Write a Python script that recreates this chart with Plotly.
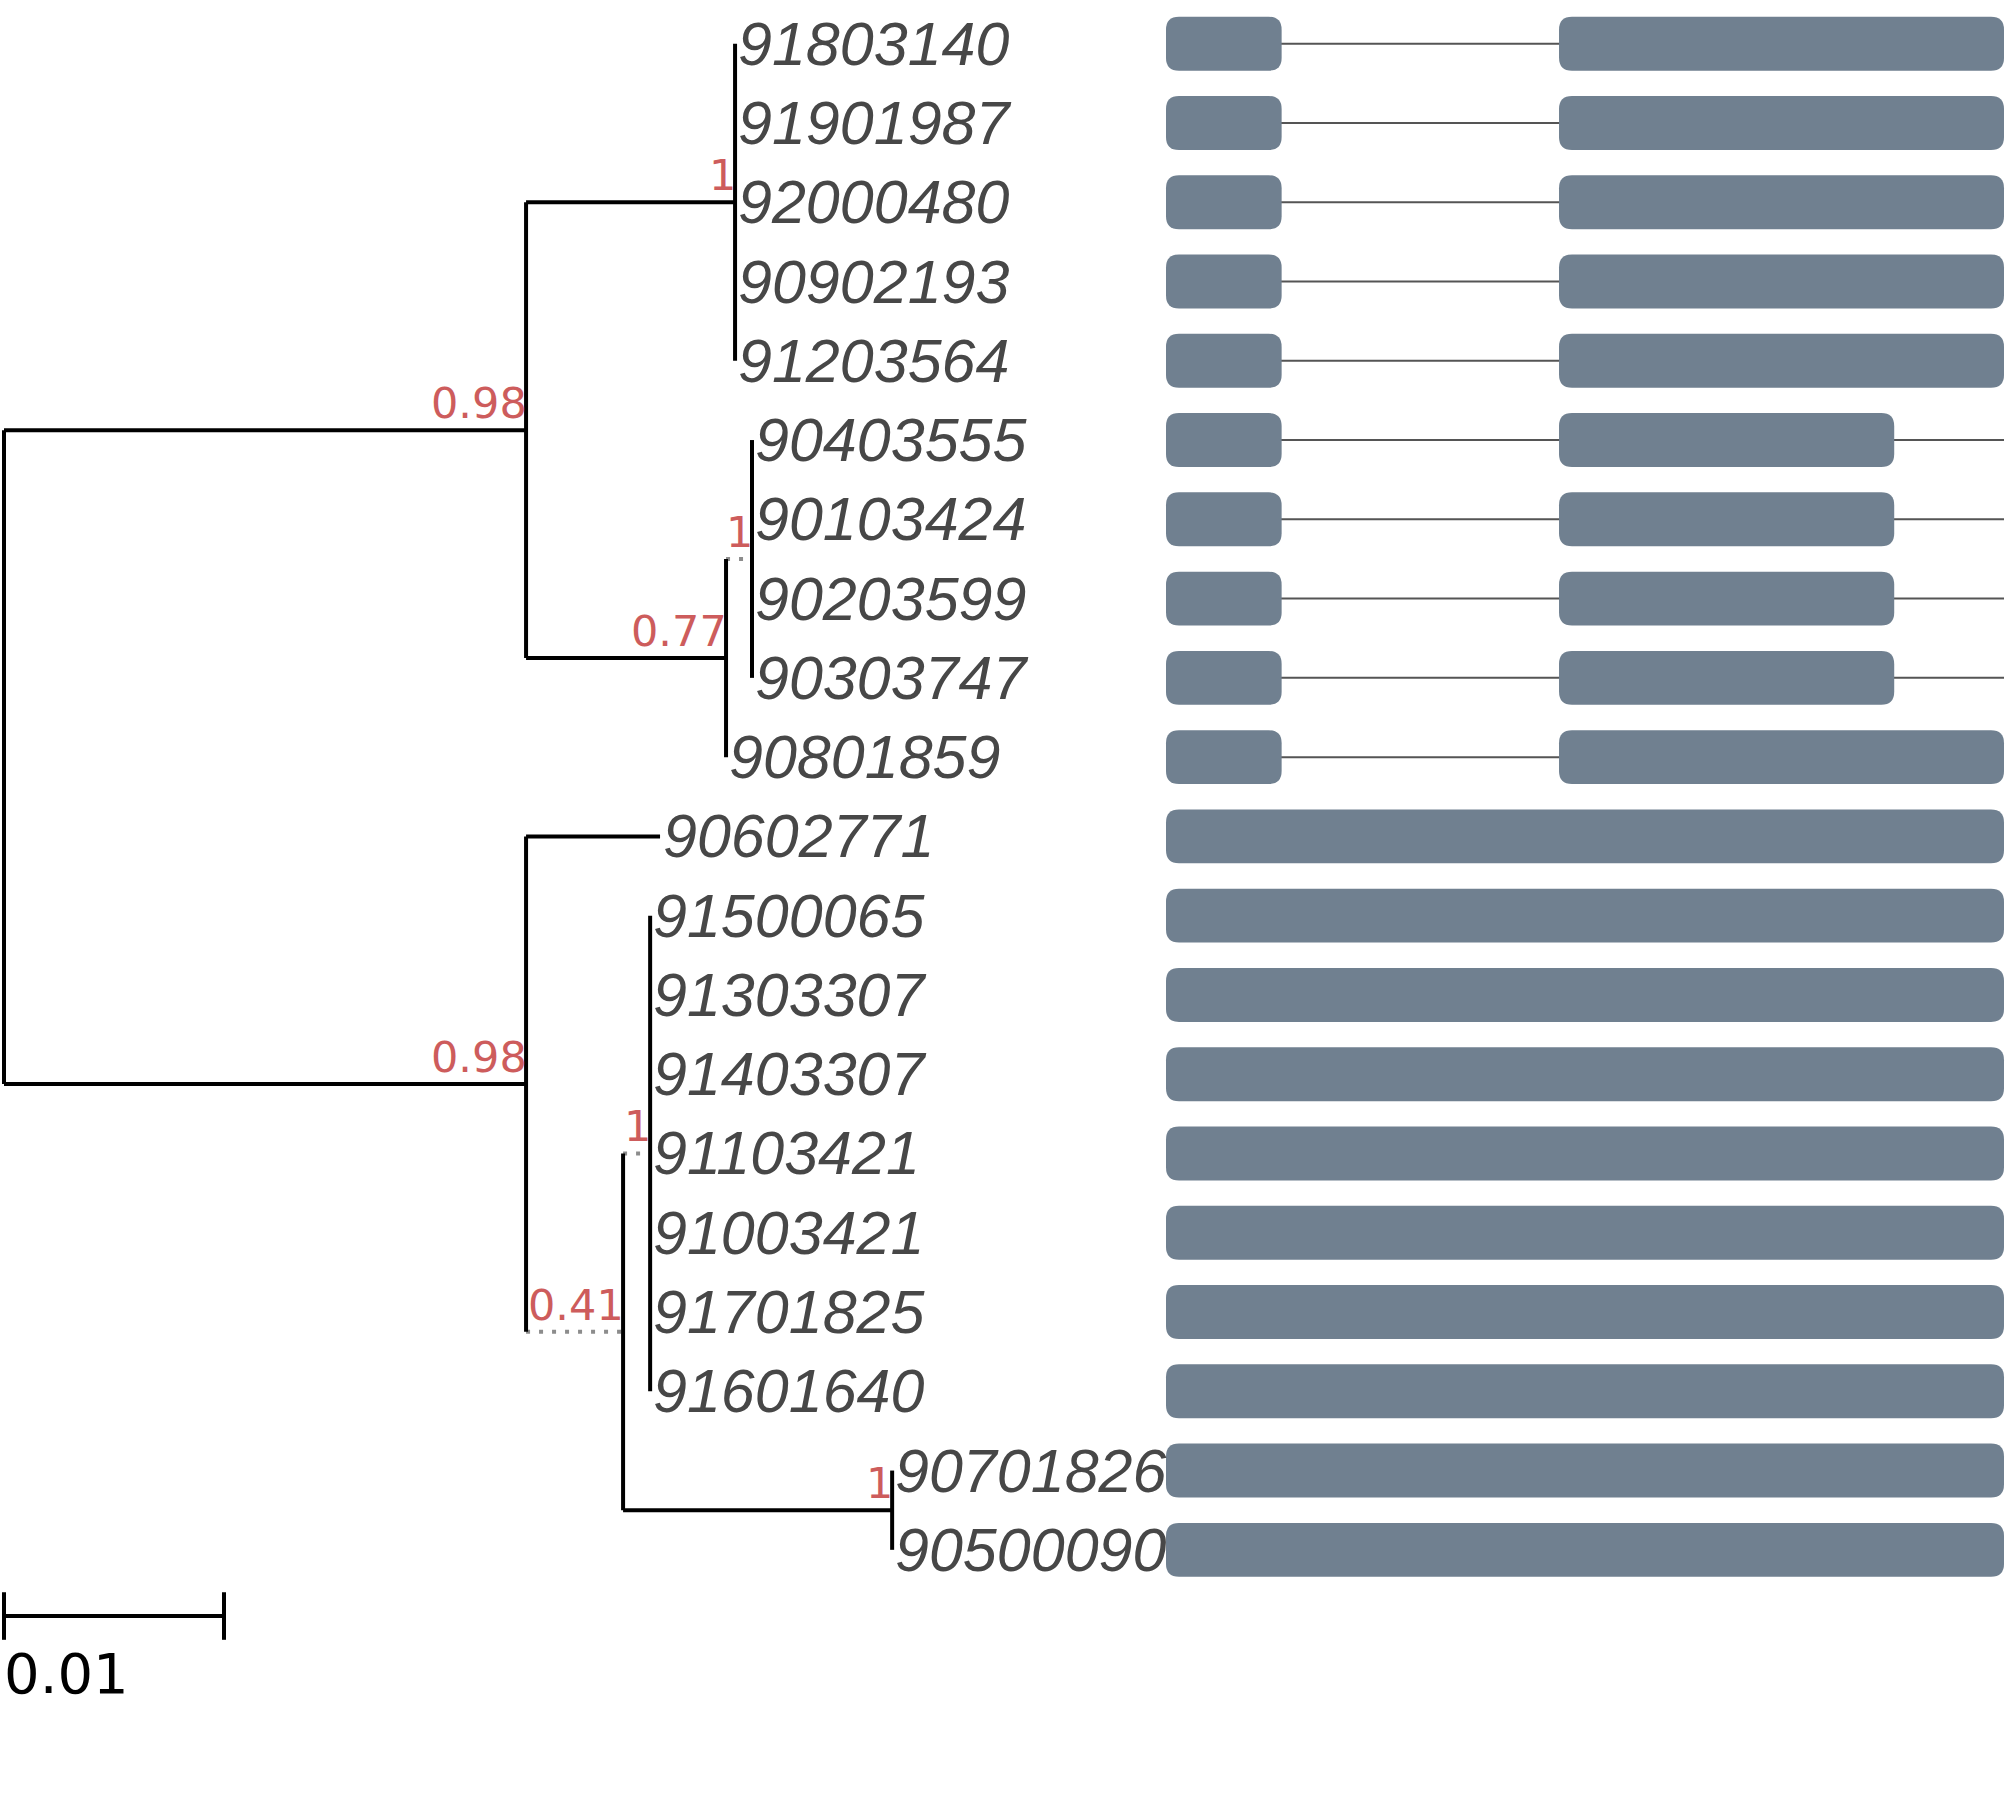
import plotly.graph_objects as go

# leaves, top to bottom
tip_names = ["91803140", "91901987", "92000480", "90902193", "91203564",
             "90403555", "90103424", "90203599", "90303747", "90801859",
             "90602771", "91500065", "91303307", "91403307", "91103421",
             "91003421", "91701825", "91601640", "90701826", "90500090"]
tip_parents = ["A1"] * 5 + ["A2i"] * 4 + ["A2", "B"] + ["Bi"] * 7 + ["Bp"] * 2
tip_lengths = [0.0] * 10 + [0.00609] + [0.0] * 9

# internal nodes
node_names = ["A", "B", "A1", "A2", "A2i", "B41", "Bi", "Bp"]
node_parents = ["root", "root", "A", "A", "A2", "B", "B41", "B41"]
node_lengths = [0.02373, 0.02373, 0.0095, 0.00909, 0.00118, 0.00441, 0.00123, 0.01223]
node_support = [0.98, 0.98, 1, 0.77, 1, 0.41, 1, 1]
dotted_nodes = ["A2i", "B41", "Bi"]

# gene models (exon start/end, transcript length)
two_exon = [(0, 138), (469, 1000)]
short_exon = [(0, 138), (469, 869)]
one_exon = [(0, 1000)]
gene_exons = [two_exon] * 5 + [short_exon] * 4 + [two_exon] + [one_exon] * 10
gene_length = [1000] * 20

scale_len = 0.01

W, H = 2007, 1814
row0, row_px = 43.7, 79.27
tree_px = 22000.0      # px per substitution unit
gene_px = 0.838        # px per gene unit
tree_left, gene_left = 4, 1166

# ---- layout of the tree
xpos = {"root": 0.0}
parent_of = dict(zip(node_names, node_parents))
length_of = dict(zip(node_names, node_lengths))


def get_x(n):
    if n not in xpos:
        xpos[n] = get_x(parent_of[n]) + length_of[n]
    return xpos[n]


for n in node_names:
    get_x(n)

children = {}
for n, p in zip(node_names, node_parents):
    children.setdefault(p, []).append(n)
for t, p in zip(tip_names, tip_parents):
    children.setdefault(p, []).append(t)

ypos = {}
for i, (t, p, l) in enumerate(zip(tip_names, tip_parents, tip_lengths)):
    ypos[t] = i
    xpos[t] = xpos[p] + l


def get_y(n):
    if n not in ypos:
        ys = [get_y(c) for c in children[n]]
        ypos[n] = (min(ys) + max(ys)) / 2
    return ypos[n]


get_y("root")

fig = go.Figure()

# vertical connectors
vx, vy = [], []
for n, ch in children.items():
    ys = [ypos[c] for c in ch]
    vx += [xpos[n], xpos[n], None]
    vy += [min(ys), max(ys), None]

sx, sy, dx, dy = [], [], [], []
for n in node_names + tip_names:
    p = parent_of.get(n) if n in parent_of else tip_parents[tip_names.index(n)]
    if xpos[n] == xpos[p]:
        continue
    if n in dotted_nodes:
        dx += [xpos[p], xpos[n], None]
        dy += [ypos[n], ypos[n], None]
    else:
        sx += [xpos[p], xpos[n], None]
        sy += [ypos[n], ypos[n], None]

fig.add_trace(go.Scatter(x=dx, y=dy, mode="lines", hoverinfo="skip",
                         line=dict(color="#8c8c8c", width=4, dash="4px,9px")))
fig.add_trace(go.Scatter(x=sx, y=sy, mode="lines", hoverinfo="skip",
                         line=dict(color="black", width=4)))
fig.add_trace(go.Scatter(x=vx, y=vy, mode="lines", hoverinfo="skip",
                         line=dict(color="black", width=4)))

# scale bar
sb_y = 19.835
fig.add_trace(go.Scatter(
    x=[0, scale_len, None, 0, 0, None, scale_len, scale_len],
    y=[sb_y, sb_y, None, sb_y - 0.3, sb_y + 0.3, None, sb_y - 0.3, sb_y + 0.3],
    mode="lines", hoverinfo="skip", line=dict(color="black", width=4)))
fig.add_annotation(x=0, y=20.12, xref="x", yref="y", text=f"{scale_len:g}",
                   showarrow=False, xanchor="left", yanchor="top", xshift=-2,
                   font=dict(family="DejaVu Sans", size=56, color="black"))

# support values
for n, s in zip(node_names, node_support):
    fig.add_annotation(x=xpos[n], y=ypos[n], xref="x", yref="y", text=f"{s:g}",
                       showarrow=False, xanchor="right", yanchor="bottom",
                       xshift=3, yshift=0,
                       font=dict(family="DejaVu Sans", size=43, color="#cd5c5c"))

# leaf names
for t in tip_names:
    fig.add_annotation(x=xpos[t], y=ypos[t], xref="x", yref="y", text=t,
                       showarrow=False, xanchor="left", yanchor="middle", xshift=1,
                       font=dict(family="Liberation Sans", size=61, color="#474747",
                                 style="italic"))

# gene models
gx, gy = [], []
for i, L in enumerate(gene_length):
    gx += [0, L, None]
    gy += [i, i, None]
fig.add_trace(go.Scatter(x=gx, y=gy, xaxis="x2", mode="lines", hoverinfo="skip",
                         line=dict(color="#555555", width=2)))

hh = 0.34
rx, ry = 13 / gene_px, 13 / row_px
for i, ex in enumerate(gene_exons):
    y0, y1 = i - hh, i + hh
    for a, b in ex:
        path = (f"M {a + rx},{y0} L {b - rx},{y0} Q {b},{y0} {b},{y0 + ry} "
                f"L {b},{y1 - ry} Q {b},{y1} {b - rx},{y1} L {a + rx},{y1} "
                f"Q {a},{y1} {a},{y1 - ry} L {a},{y0 + ry} Q {a},{y0} {a + rx},{y0} Z")
        fig.add_shape(type="path", path=path, xref="x2", yref="y",
                      fillcolor="#708090", line=dict(width=0))

fig.update_layout(
    width=W, height=H, margin=dict(l=0, r=0, t=0, b=0),
    paper_bgcolor="white", plot_bgcolor="white", showlegend=False,
    xaxis=dict(range=[-tree_left / tree_px, (W - tree_left) / tree_px],
               visible=False, fixedrange=True),
    xaxis2=dict(range=[-gene_left / gene_px, (W - gene_left) / gene_px],
                overlaying="x", visible=False, fixedrange=True),
    yaxis=dict(range=[(H - row0) / row_px, -row0 / row_px], visible=False,
               fixedrange=True),
)

# page body has a default 8px margin; drop it so the figure fills the window
fig.write_html("out.html", config={"displayModeBar": False},
               post_script="document.body.style.margin = '0';")
